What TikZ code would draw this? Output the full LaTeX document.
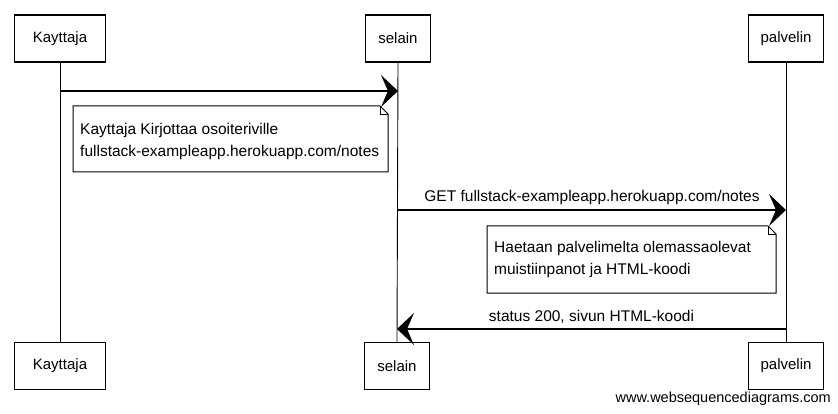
\documentclass[tikz,border=0pt]{standalone}
\usepackage{fontspec}
\setmainfont{Liberation Sans}
\usetikzlibrary{arrows.meta,calc}
\tikzset{
  actor/.style={draw, line width=1.1pt, inner sep=0pt, font=\fontsize{15}{17}\selectfont, minimum height=47pt},
  life/.style={line width=0.9pt},
  msg/.style={line width=1.2pt, -{Stealth[length=17pt,width=32pt,inset=7pt]}},
  notetext/.style={font=\fontsize{15.5}{22}\selectfont, align=left, anchor=west, inner sep=0pt},
  lbl/.style={font=\fontsize{15.5}{17}\selectfont, inner sep=0pt},
  notebox/.style={draw, line width=1pt, fill=white}
}
\begin{document}
\begin{tikzpicture}[x=1pt,y=-1pt]
\useasboundingbox (0,0) rectangle (838,414);
% participants
\node[actor, minimum width=91pt] (kt) at (60,38.5) {Kayttaja};
\node[actor, minimum width=65pt] (st) at (398,38.5) {selain};
\node[actor, minimum width=75pt] (pt) at (786,38.5) {palvelin};
\node[actor, minimum width=91pt] (kb) at (60,366) {Kayttaja};
\node[actor, minimum width=65pt] (sb) at (397,366) {selain};
\node[actor, minimum width=75pt] (pb) at (786,366) {palvelin};
% lifelines
\draw[life] (kt.south) -- (kb.north);
\draw[life] (st.south) -- (sb.north);
\draw[life] (pt.south) -- (pb.north);
% message end points on lifelines
\coordinate (m1a) at (kt.south |- 0,91);
\coordinate (m1b) at (st.south |- 0,91);
\coordinate (m2a) at (st.south |- 0,210);
\coordinate (m2b) at (pt.south |- 0,210);
\coordinate (m3a) at (pt.south |- 0,329);
\coordinate (m3b) at (sb.north |- 0,329);
% message 1
\draw[msg] (m1a) -- (m1b);
% note 1
\draw[notebox] (73,106) -- (380,106) -- (388,114) -- (388,172) -- (73,172) -- cycle;
\draw[line width=0.8pt] (380,106) -- (380,114) -- (388,114);
\node[notetext] (n1) at (80,141) {Kayttaja Kirjottaa osoiteriville\\fullstack-exampleapp.herokuapp.com/notes};
% message 2
\draw[msg] (m2a) -- node[lbl, above=5pt] (l2) {GET fullstack-exampleapp.herokuapp.com/notes} (m2b);
% note 2
\draw[notebox] (487,226) -- (768,226) -- (776,234) -- (776,293) -- (487,293) -- cycle;
\draw[line width=0.8pt] (768,226) -- (768,234) -- (776,234);
\node[notetext] (n2) at (494,259) {Haetaan palvelimelta olemassaolevat\\muistiinpanot ja HTML-koodi};
% message 3
\draw[msg] (m3a) -- node[lbl, above=5pt] (l3) {status 200, sivun HTML-koodi} (m3b);
% watermark
\node[font=\fontsize{14.5}{16}\selectfont, anchor=east, inner sep=0pt] (wm) at (831,399) {www.websequencediagrams.com};
\end{tikzpicture}
\end{document}
